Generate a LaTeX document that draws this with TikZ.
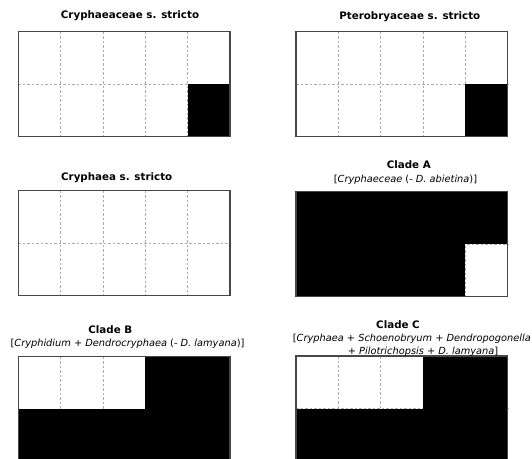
\documentclass[tikz,border=0pt]{standalone}
\usepackage{fontspec}
\setmainfont{DejaVu Sans}
\tikzset{
  gridline/.style={draw=gray!65, line width=0.7pt, dash pattern=on 2.5pt off 2pt},
  frame/.style={draw=black!72, line width=1.5pt},
  blackcell/.style={fill=black},
  ttl/.style={font=\bfseries\fontsize{10.3}{12}\selectfont, inner sep=0pt},
  sub/.style={font=\fontsize{9.8}{12}\selectfont, inner sep=0pt},
}
\newcommand{\panelbase}[2]{%
  \begin{scope}[shift={(#1,#2)}]
    \fill[white] (0,0) rectangle (211.7,105);
    \foreach \i in {1,...,4} \draw[gridline] (\i*42.34,0) -- (\i*42.34,105);
    \draw[gridline] (0,52.5) -- (211.7,52.5);
  \end{scope}}
\newcommand{\panelcells}[3]{%
  \begin{scope}[shift={(#1,#2)}]
    \foreach \c/\r in {#3} \fill[blackcell] (\c*42.34,\r*52.5) rectangle ++(42.34,52.5);
  \end{scope}}
\newcommand{\panelframe}[2]{%
  \begin{scope}[shift={(#1,#2)}]
    \draw[frame] (0,0) rectangle (211.7,105);
  \end{scope}}
\begin{document}
\begin{tikzpicture}[x=1pt, y=-1pt]
  \useasboundingbox (0,0) rectangle (532,458);
  \clip (0,0) rectangle (532,458);

  % panel 1
  \panelbase{18.3}{31.7}
  \panelcells{18.3}{31.7}{4/1}
  \panelframe{18.3}{31.7}
  \node[ttl] (t1) at (130,16) {Cryphaeaceae s. stricto};

  % panel 2
  \panelbase{296}{31.5}
  \panelcells{296}{31.5}{4/1}
  \panelframe{296}{31.5}
  \node[ttl] (t2) at (409.8,16.5) {Pterobryaceae s. stricto};

  % panel 3
  \panelbase{18.3}{190.7}
  \panelframe{18.3}{190.7}
  \node[ttl] (t3) at (116.7,177.5) {Cryphaea s. stricto};

  % panel 4
  \panelbase{296}{191.7}
  \panelcells{296}{191.7}{0/0,1/0,2/0,3/0,4/0,0/1,1/1,2/1,3/1}
  \panelframe{296}{191.7}
  \node[ttl] (t4) at (408.8,165) {Clade A};
  \node[sub] (s4) at (405.5,179.5) {[\textit{Cryphaeceae} (- \textit{D. abietina})]};

  % panel 5
  \panelbase{18.3}{356.7}
  \panelcells{18.3}{356.7}{3/0,4/0,0/1,1/1,2/1,3/1,4/1}
  \panelframe{18.3}{356.7}
  \node[ttl] (t5) at (110.3,329.5) {Clade B};
  \node[sub] (s5) at (127.5,343.5) {[\textit{Cryphidium} + \textit{Dendrocryphaea} (- \textit{D. lamyana})]};

  % panel 6
  \panelbase{296}{356}
  \panelcells{296}{356}{3/0,4/0,0/1,1/1,2/1,3/1,4/1}
  \panelframe{296}{356}
  \node[ttl] (t6) at (398,324.5) {Clade C};
  \node[sub, anchor=west] (s6a) at (292.7,338.5) {[\textit{Cryphaea} + \textit{Schoenobryum} + \textit{Dendropogonella}};
  \node[sub, anchor=west] (s6b) at (347.7,351.5) {+ \textit{Pilotrichopsis} + \textit{D. lamyana}]};
\end{tikzpicture}
\end{document}
